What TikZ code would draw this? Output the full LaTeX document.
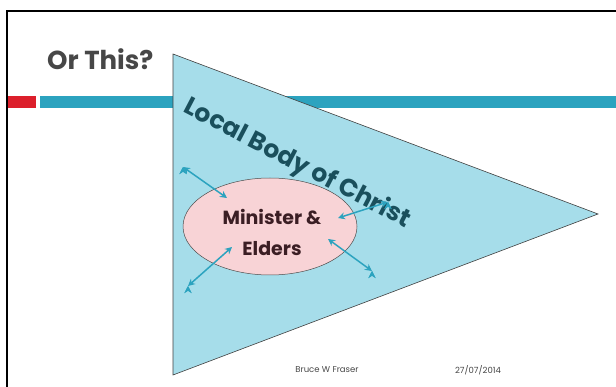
\documentclass[tikz,border=0pt]{standalone}
\usepackage{fontspec}
\setmainfont{Poppins}
\usetikzlibrary{arrows.meta,shapes.geometric}

\definecolor{barblue}{HTML}{2CA3BF}
\definecolor{barred}{HTML}{DC1F2B}
\definecolor{bodyblue}{HTML}{A6DDEA}
\definecolor{bodytext}{HTML}{1A4F5C}
\definecolor{elderpink}{HTML}{F8D3D6}
\definecolor{eldertext}{HTML}{3B1E24}
\definecolor{titlegray}{HTML}{474747}

\tikzset{
  link/.style={<->, >={Stealth[length=7pt,width=7pt]}, draw=barblue, line width=1.5pt},
  footer/.style={text=titlegray, font=\fontsize{8.5}{10}\selectfont}
}

\begin{document}
\begin{tikzpicture}[x=1pt,y=-1pt]
\useasboundingbox (0,0) rectangle (616,387);
\clip (0,0) rectangle (616,387);
\fill[white] (0,0) rectangle (616,387);
% slide frame and header bars
\draw[line width=2pt] (7,11) rectangle (640,420);
\fill[barred] (8,96) rectangle (36,108);
\fill[barblue] (40,96) rectangle (616,108);
\node[text=titlegray, font=\fontsize{26}{30}\selectfont\bfseries, anchor=base west, inner sep=0pt] (title) at (47,70) {Or This?};
% body of christ
\draw[draw=black!75, fill=bodyblue, line width=0.6pt] (173,54) -- (598,214) -- (173,375) -- cycle;
\node[text=bodytext, font=\fontsize{25}{28}\selectfont\bfseries, rotate=-27.5] (body) at (297,164) {Local Body of Christ};
% minister and elders
\node[shape=ellipse, draw=black!70, fill=elderpink, line width=0.5pt, minimum width=174pt, minimum height=97pt, inner sep=0pt] (elders) at (270,226.5) {};
\node[text=eldertext, font=\fontsize{19}{31}\selectfont\bfseries, align=center] (eldertxt) at (272,232) {Minister \&\\Elders};
% arrows out into the body
\coordinate (a1) at (183,167);
\coordinate (b1) at (227,198);
\coordinate (a2) at (388,202);
\coordinate (b2) at (338,218);
\coordinate (a3) at (372,271);
\coordinate (b3) at (328,239);
\coordinate (a4) at (188,286);
\coordinate (b4) at (232,247);
\path [link] (a1) edge (b1);
\path [link] (a2) edge (b2);
\path [link] (a3) edge (b3);
\path [link] (a4) edge (b4);
% footer
\node[footer] (author) at (327,370) {Bruce W Fraser};
\node[footer] (date) at (478,370) {27/07/2014};
\end{tikzpicture}
\end{document}
